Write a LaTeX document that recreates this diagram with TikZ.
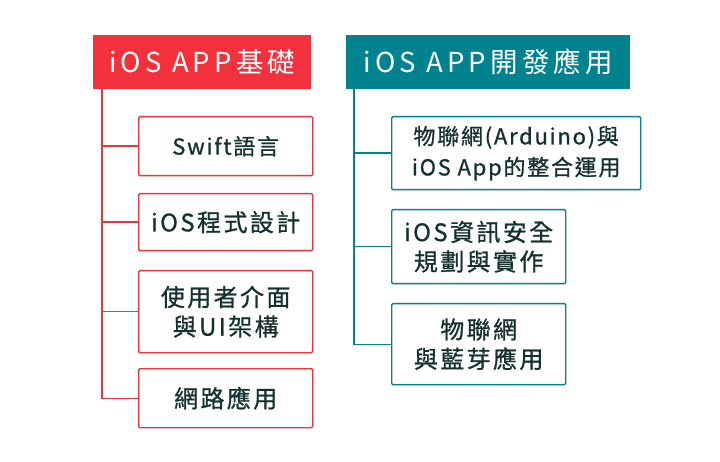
\documentclass[tikz,border=0pt]{standalone}
\usepackage{fontspec}
\setmainfont{Noto Sans CJK TC}[LetterSpace=8,FakeBold=0.9]
\newfontfamily\bigfont{Noto Sans CJK TC}[LetterSpace=10,FakeBold=0.9]
\newfontfamily\headfont{Noto Sans CJK TC}[LetterSpace=15]
\definecolor{myred}{HTML}{F2313C}
\definecolor{myteal}{HTML}{00838F}
\definecolor{mytext}{HTML}{143030}
\begin{document}
\begin{tikzpicture}[x=1pt,y=-1pt,
  head/.style={fill=#1, draw=none, text=white, font=\headfont\fontsize{27.5}{30}\selectfont, anchor=north west, inner sep=0pt},
  item/.style={draw=#1, line width=1.4pt, rounded corners=1.2pt, fill=white, text=mytext, font=\fontsize{22}{31}\selectfont, align=center, anchor=north west, inner sep=0pt},
  big/.style={font=\bigfont\fontsize{24}{29.5}\selectfont},
  conn/.style={draw=#1, line width=1.4pt}]
\useasboundingbox (0,0) rectangle (720,462);
% left column
\node[head=myred, minimum width=218, minimum height=54] (h1) at (93,35) {iOS APP基礎};
\node[item=myred, minimum width=174, minimum height=59] (a1) at (138,116) {Swift語言};
\node[item=myred, big, minimum width=174, minimum height=57] (a2) at (138,193) {iOS程式設計};
\node[item=myred, big, minimum width=174, minimum height=82] (a3) at (138,270) {使用者介面\\與UI架構};
\node[item=myred, big, minimum width=174, minimum height=59] (a4) at (138,368) {網路應用};
\coordinate (t1) at ([xshift=9]h1.south west);
\draw[conn=myred] (t1) -- (t1 |- a4.west) -- (a4.west);
\draw[conn=myred] (t1 |- a1.west) -- (a1.west);
\draw[conn=myred] (t1 |- a2.west) -- (a2.west);
\draw[conn=myred] (t1 |- a3.west) -- (a3.west);
% right column
\node[head=myteal, minimum width=284, minimum height=54] (h2) at (346,35) {iOS APP開發應用};
\node[item=myteal, minimum width=249, minimum height=73] (b1) at (391,116) {物聯網(Arduino)與\\iOS App的整合運用};
\node[item=myteal, big, minimum width=174, minimum height=74] (b2) at (391,209) {iOS資訊安全\\規劃與實作};
\node[item=myteal, big, minimum width=174, minimum height=81] (b3) at (391,303) {物聯網\\與藍芽應用};
\coordinate (t2) at ([xshift=8]h2.south west);
\draw[conn=myteal] (t2) -- (t2 |- b3.west) -- (b3.west);
\draw[conn=myteal] (t2 |- b1.west) -- (b1.west);
\draw[conn=myteal] (t2 |- b2.west) -- (b2.west);
\end{tikzpicture}
\end{document}
